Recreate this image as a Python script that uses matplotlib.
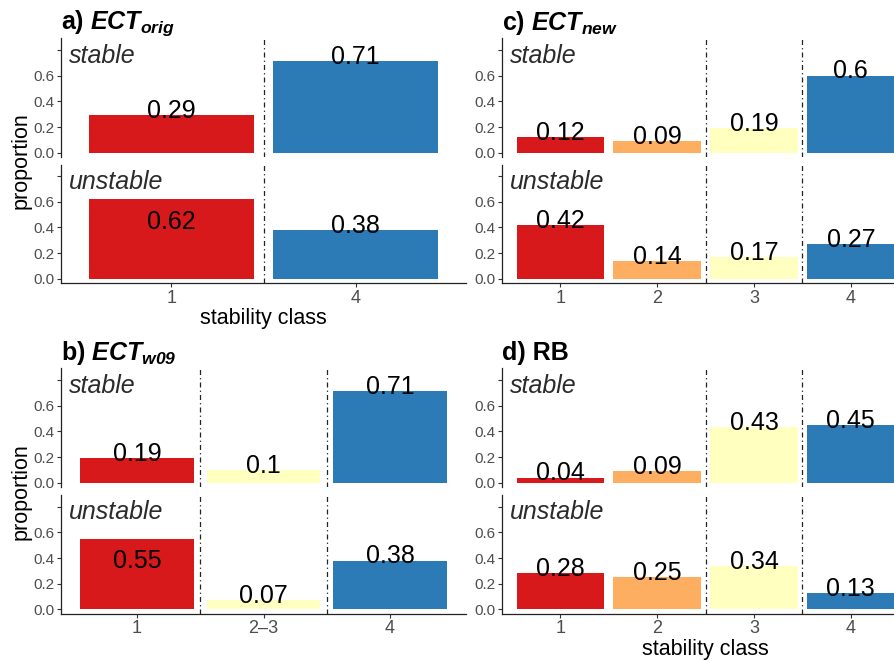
import numpy as np
import matplotlib
matplotlib.use("Agg")
import matplotlib.pyplot as plt

plt.rcParams['font.family'] = ['Liberation Sans', 'DejaVu Sans']
plt.rcParams['mathtext.fontset'] = 'custom'
plt.rcParams['mathtext.it'] = 'Liberation Sans:italic:bold'
plt.rcParams['mathtext.rm'] = 'Liberation Sans:italic:bold'

# colours per stability class (RdYlBu)
class_colors = {'1': '#D7191C', '2': '#FDAE61', '2–3': '#FFFFBF',
                '3': '#FFFFBF', '4': '#2C7BB6'}

# a) ECT orig
a_classes = ['1', '4']
a_stable = [0.29, 0.71]
a_unstable = [0.62, 0.38]
a_breaks = [1.5]

# b) ECT w09
b_classes = ['1', '2–3', '4']
b_stable = [0.19, 0.1, 0.71]
b_unstable = [0.55, 0.07, 0.38]
b_breaks = [1.5, 2.5]

# c) ECT new
c_classes = ['1', '2', '3', '4']
c_stable = [0.12, 0.09, 0.19, 0.6]
c_unstable = [0.42, 0.14, 0.17, 0.27]
c_breaks = [2.5, 3.5]

# d) RB
d_classes = ['1', '2', '3', '4']
d_stable = [0.04, 0.09, 0.43, 0.45]
d_unstable = [0.28, 0.25, 0.34, 0.13]
d_breaks = [2.5, 3.5]

W, H = 894, 660
fig = plt.figure(figsize=(W / 100, H / 100), dpi=100)


def px_box(x0, x1, ytop, ybot):
    return [x0 / W, 1 - ybot / H, (x1 - x0) / W, (ybot - ytop) / H]


def draw_panel(title, classes, stable, unstable, breaks, x0, x1, rows, ylab, xlab):
    x = np.arange(1, len(classes) + 1)
    cols = [class_colors[c] for c in classes]
    for k, (vals, name) in enumerate([(stable, 'stable'), (unstable, 'unstable')]):
        ax = fig.add_axes(px_box(x0, x1, *rows[k]))
        ax.bar(x, vals, width=0.9, color=cols, zorder=2)
        for xi, v in zip(x, vals):
            inside = name == 'unstable' and v > 0.5
            ax.text(xi, v - (0.23 if inside else 0.022), f'{v:g}', ha='center',
                    va='baseline', fontsize=18, color='black', zorder=4)
        for b in breaks:
            ax.axvline(b, color='#222222', lw=0.9, ls=(0, (4, 2.5, 1, 2.5)), zorder=3)
        ax.set_xlim(0.4, len(classes) + 0.6)
        ax.set_ylim(-0.035, 0.89)
        ax.set_yticks([0, 0.2, 0.4, 0.6, 0.8])
        ax.set_yticklabels(['0.0', '0.2', '0.4', '0.6', ''])
        ax.tick_params(axis='both', length=3, width=0.8, color='#333333',
                       labelcolor='#4D4D4D')
        ax.tick_params(axis='y', labelsize=11, pad=2)
        for s in ['top', 'right']:
            ax.spines[s].set_visible(False)
        ax.spines['left'].set_color('#222222')
        ax.spines['left'].set_linewidth(0.9)
        ax.annotate(name, xy=(0, 1), xycoords='axes fraction', xytext=(6, -17.6),
                    textcoords='offset points', ha='left', va='baseline',
                    fontsize=18, style='italic', color='#2B2B2B')
        if name == 'stable':
            ax.spines['bottom'].set_visible(False)
            ax.set_xticks([])
            ax.set_title(title, loc='left', pad=6, fontsize=18, fontweight='bold')
        else:
            ax.spines['bottom'].set_color('#222222')
            ax.spines['bottom'].set_linewidth(0.9)
            ax.set_xticks(x)
            ax.set_xticklabels(classes)
            ax.tick_params(axis='x', labelsize=13, pad=1.5)
    if ylab:
        fig.text(21 / W, 1 - (rows[0][0] + rows[1][1]) / 2 / H, 'proportion',
                 rotation=90, ha='center', va='center', fontsize=15.5)
    if xlab:
        fig.text((x0 + x1) / 2 / W, 1 - (rows[1][1] + 35) / H, 'stability class',
                 ha='center', va='center', fontsize=15.5)


top_rows = [(38.3, 157.3), (164.5, 283.3)]
bot_rows = [(368.3, 487.3), (495.0, 614.0)]

draw_panel(r'a) $ECT_{orig}$', a_classes, a_stable, a_unstable, a_breaks,
           61, 466, top_rows, True, True)
draw_panel(r'b) $ECT_{w09}$', b_classes, b_stable, b_unstable, b_breaks,
           61, 466, bot_rows, True, False)
draw_panel(r'c) $ECT_{new}$', c_classes, c_stable, c_unstable, c_breaks,
           502, 909, top_rows, False, False)
draw_panel('d) RB', d_classes, d_stable, d_unstable, d_breaks,
           502, 909, bot_rows, False, True)

fig.savefig('out.png', dpi=100)
